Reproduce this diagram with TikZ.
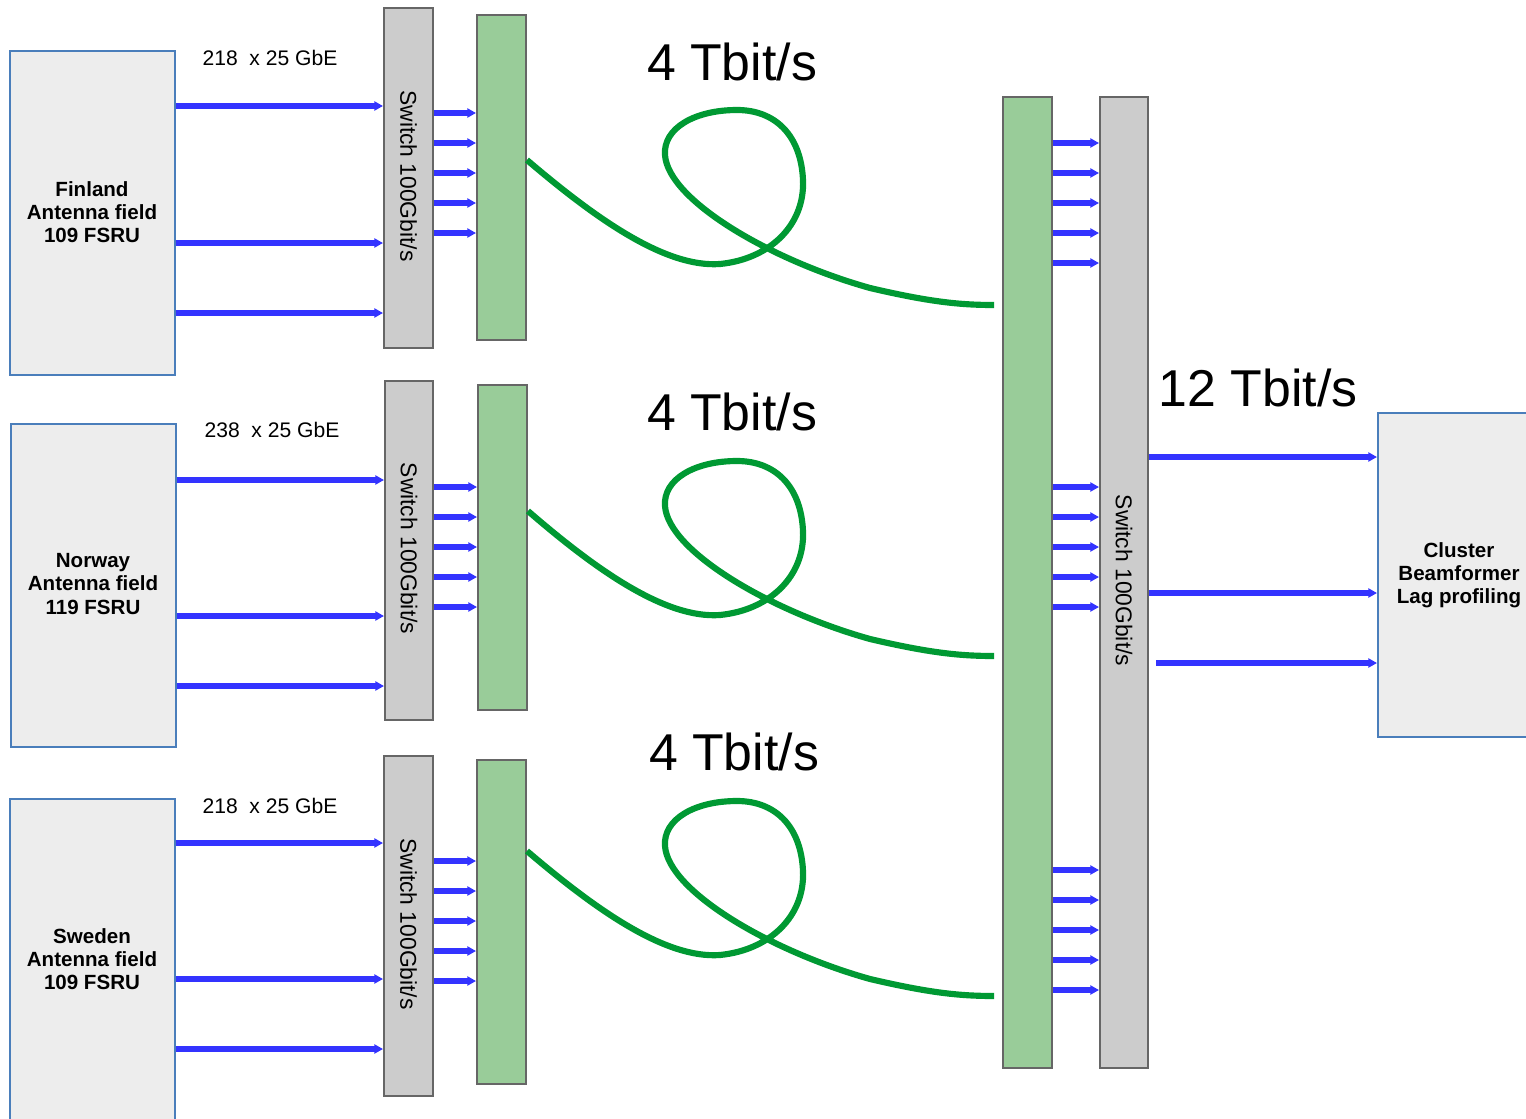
\documentclass[tikz,border=0pt]{standalone}
\usepackage{fontspec}
\setmainfont{Liberation Sans}
\usetikzlibrary{positioning,arrows.meta,fit}

\definecolor{linkblue}{HTML}{3333FF}
\definecolor{fibregreen}{HTML}{009933}
\definecolor{barfill}{HTML}{99CC99}
\definecolor{boxedge}{HTML}{4A7EBB}

\begin{document}
\begin{tikzpicture}[x=0.02cm,y=-0.02cm,>={Triangle[length=5pt,width=5.2pt]},
  field/.style={draw=boxedge,fill=black!7,line width=1.1pt,inner sep=0pt},
  fieldtxt/.style={align=center,font=\bfseries\fontsize{11.7}{13.2}\selectfont},
  switchbox/.style={draw=black!60,fill=black!20,line width=1.1pt,inner sep=0pt},
  bar/.style={draw=black!60,fill=barfill,line width=1.1pt,inner sep=0pt},
  swlabel/.style={rotate=-90,font=\fontsize{13}{15}\selectfont},
  link/.style={->,draw=linkblue,line width=3.3pt},
  fibre/.style={draw=fibregreen,line width=3.5pt},
  rate/.style={font=\fontsize{29.5}{32}\selectfont},
  count/.style={font=\fontsize{12}{14}\selectfont}]
\useasboundingbox (0,0) rectangle (1526,1119);
\clip (0,0) rectangle (1526,1119);

% antenna fields
\node[field,fit={(10,51) (175,375)}] (fin) {};
\node[field,fit={(11,424) (176,747)}] (nor) {};
\node[field,fit={(10,799) (175,1125)}] (swe) {};
\node[field,fit={(1378,413) (1535,737)}] (clu) {};
\node[fieldtxt] (fin-txt) at (92,212) {Finland\\Antenna field\\109 FSRU};
\node[fieldtxt] (nor-txt) at (93,584) {Norway\\Antenna field\\119 FSRU};
\node[fieldtxt] (swe-txt) at (92,959) {Sweden\\Antenna field\\109 FSRU};
\node[fieldtxt] (clu-txt) at (1459,575) {Cluster\\Beamformer\\Lag profiling};

% switches and green bars
\node[switchbox,fit={(384,8) (433,348)}] (sw1) {};
\node[switchbox,fit={(385,381) (433,720)}] (sw2) {};
\node[switchbox,fit={(384,756) (433,1096)}] (sw3) {};
\node[switchbox,fit={(1100,97) (1148,1068)}] (swr) {};
\node[bar,fit={(477,15) (526,340)}] (g1) {};
\node[bar,fit={(478,385) (527,710)}] (g2) {};
\node[bar,fit={(477,760) (526,1084)}] (g3) {};
\node[bar,fit={(1003,97) (1052,1068)}] (big) {};
\foreach \s in {sw1,sw2,sw3,swr}
  \node[swlabel] (\s-txt) at ([yshift=0.04cm]\s) {Switch 100Gbit/s};

% labels
\node[count] (c1) at (270,58) {218~~x 25 GbE};
\node[count] (c2) at (272,430) {238~~x 25 GbE};
\node[count] (c3) at (270,806) {218~~x 25 GbE};
\node[rate] (r1) at (732,62) {4 Tbit/s};
\node[rate] (r2) at (732,412) {4 Tbit/s};
\node[rate] (r3) at (734,752) {4 Tbit/s};
\node[rate] (r4) at (1258,388) {12 Tbit/s};

% 25 GbE links
\foreach \y in {106,243,313} \draw[link] (fin.east |- 0,\y) -- (sw1.west |- 0,\y);
\foreach \y in {480,616,686} \draw[link] (nor.east |- 0,\y) -- (sw2.west |- 0,\y);
\foreach \y in {843,979,1049} \draw[link] (swe.east |- 0,\y) -- (sw3.west |- 0,\y);

% 100G links
\foreach \y in {113,143,173,203,233} \draw[link] (sw1.east |- 0,\y) -- (g1.west |- 0,\y);
\foreach \y in {487,517,547,577,607} \draw[link] (sw2.east |- 0,\y) -- (g2.west |- 0,\y);
\foreach \y in {861,891,921,951,981} \draw[link] (sw3.east |- 0,\y) -- (g3.west |- 0,\y);
\foreach \y in {143,173,203,233,263,487,517,547,577,607,870,900,930,960,990}
  \draw[link] (big.east |- 0,\y) -- (swr.west |- 0,\y);

% to the cluster
\draw[link] (swr.east |- 0,457) -- (clu.west |- 0,457);
\draw[link] (swr.east |- 0,593) -- (clu.west |- 0,593);
\draw[link,shorten <=4pt] (swr.east |- 0,663) -- (clu.west |- 0,663);

% fibre loops
\foreach \dy/\g in {0/g1,351/g2,691/g3}{
  \begin{scope}[shift={(0,\dy)}]
  \draw[fibre] (\g.east |- 0,160) .. controls (595,218) and (665,268) .. (720,264)
    .. controls (770,259) and (805,225) .. (803,180)
    .. controls (801,135) and (775,110) .. (737,110)
    .. controls (695,110) and (663,128) .. (665,155)
    .. controls (668,200) and (770,260) .. (870,288)
    .. controls (930,302) and (960,305) .. ([xshift=-0.16cm]big.west |- 0,305);
  \end{scope}
}
\end{tikzpicture}
\end{document}
